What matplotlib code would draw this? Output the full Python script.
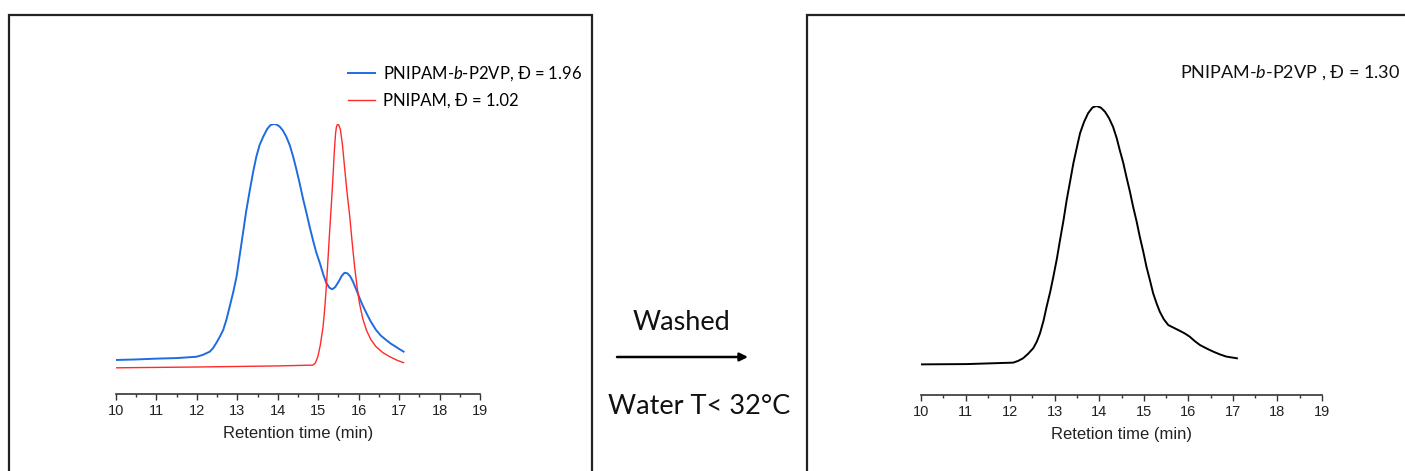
import matplotlib
matplotlib.use("Agg")
import matplotlib.pyplot as plt
from matplotlib.patches import Rectangle
from matplotlib.ticker import MultipleLocator

W, H = 1405, 471

# --- data (relative detector signal) ---
t_block = [10.00, 10.50, 11.00, 11.50, 11.99, 12.15, 12.32, 12.40, 12.48, 12.56,
           12.65, 12.73, 12.81, 12.90, 12.98, 13.06, 13.14, 13.22, 13.31, 13.39,
           13.47, 13.55, 13.64, 13.74, 13.82, 13.90, 13.97, 14.05, 14.13, 14.21,
           14.30, 14.38, 14.46, 14.54, 14.62, 14.71, 14.79, 14.87, 14.95, 15.04,
           15.12, 15.20, 15.28, 15.35, 15.42, 15.50, 15.58, 15.65, 15.72, 15.79,
           15.86, 15.94, 16.02, 16.10, 16.19, 16.30, 16.43, 16.55, 16.68, 16.80,
           16.93, 17.02, 17.11]
s_block = [0.126, 0.128, 0.131, 0.133, 0.138, 0.145, 0.157, 0.170, 0.189, 0.210,
           0.237, 0.275, 0.323, 0.378, 0.434, 0.515, 0.596, 0.678, 0.756, 0.822,
           0.879, 0.922, 0.953, 0.982, 0.996, 1.000, 0.998, 0.990, 0.975, 0.953,
           0.920, 0.879, 0.832, 0.781, 0.726, 0.670, 0.618, 0.570, 0.525, 0.485,
           0.445, 0.411, 0.393, 0.388, 0.396, 0.415, 0.437, 0.449, 0.447, 0.436,
           0.416, 0.387, 0.356, 0.328, 0.300, 0.268, 0.237, 0.216, 0.200, 0.186,
           0.174, 0.165, 0.157]

t_homo = [10.00, 12.00, 14.00, 14.87, 14.93, 14.99, 15.05, 15.12, 15.16, 15.20,
          15.24, 15.28, 15.33, 15.37, 15.40, 15.43, 15.45, 15.48, 15.51, 15.55,
          15.60, 15.65, 15.71, 15.78, 15.84, 15.90, 15.96, 16.02, 16.10, 16.19,
          16.30, 16.43, 16.60, 16.77, 16.95, 17.11]
s_homo = [0.097, 0.100, 0.104, 0.107, 0.115, 0.138, 0.180, 0.249, 0.315, 0.397,
          0.495, 0.596, 0.715, 0.819, 0.904, 0.967, 0.989, 1.000, 0.996, 0.978,
          0.922, 0.842, 0.750, 0.657, 0.560, 0.471, 0.397, 0.336, 0.280, 0.237,
          0.202, 0.175, 0.153, 0.138, 0.125, 0.116]

t_washed = [10.02, 11.03, 12.07, 12.18, 12.29, 12.40, 12.52, 12.60, 12.67, 12.75,
            12.82, 12.90, 12.97, 13.05, 13.12, 13.20, 13.27, 13.35, 13.42, 13.50,
            13.57, 13.66, 13.75, 13.85, 13.94, 14.04, 14.13, 14.22, 14.31, 14.39,
            14.46, 14.54, 14.61, 14.69, 14.76, 14.84, 14.91, 14.99, 15.06, 15.14,
            15.21, 15.29, 15.36, 15.45, 15.55, 15.68, 15.81, 15.92, 16.03, 16.14,
            16.26, 16.41, 16.56, 16.70, 16.85, 17.09]
s_washed = [0.106, 0.107, 0.112, 0.118, 0.127, 0.142, 0.162, 0.185, 0.213, 0.257,
            0.306, 0.357, 0.409, 0.472, 0.536, 0.606, 0.675, 0.742, 0.802, 0.858,
            0.906, 0.945, 0.975, 0.995, 1.000, 0.994, 0.980, 0.958, 0.928, 0.890,
            0.848, 0.803, 0.755, 0.703, 0.652, 0.600, 0.548, 0.495, 0.444, 0.396,
            0.352, 0.316, 0.288, 0.262, 0.242, 0.232, 0.222, 0.213, 0.202, 0.187,
            0.173, 0.161, 0.150, 0.141, 0.133, 0.127]

label_block = "PNIPAM-$\\mathit{b}$-P2VP, \u0110 = 1.96"
label_homo = "PNIPAM, \u0110 = 1.02"
label_washed = "PNIPAM-$\\mathit{b}$-P2VP , \u0110 = 1.30"

plt.rcParams['mathtext.fontset'] = 'custom'
plt.rcParams['mathtext.rm'] = 'Lato'
plt.rcParams['mathtext.it'] = 'Lato:italic'

fig = plt.figure(figsize=(W / 100, H / 100), dpi=100, facecolor='white')


def fx(px):
    return px / W


def fy(py):
    return 1 - py / H


def style_axis(ax, xlabel):
    for side in ('left', 'right', 'top'):
        ax.spines[side].set_visible(False)
    ax.spines['bottom'].set_linewidth(1.2)
    ax.spines['bottom'].set_color('#333333')
    ax.set_yticks([])
    ax.set_xlim(10, 19)
    ax.set_ylim(0, 1)
    ax.xaxis.set_major_locator(MultipleLocator(1))
    ax.xaxis.set_minor_locator(MultipleLocator(0.5))
    ax.tick_params(axis='x', which='major', length=4, width=1, color='#333333',
                   labelsize=10.5, pad=3, labelcolor='#222222')
    ax.tick_params(axis='x', which='minor', length=2.5, width=1, color='#333333')
    for lb in ax.get_xticklabels():
        lb.set_fontfamily('Liberation Sans')
    ax.set_xlabel(xlabel, fontsize=12, family='Liberation Sans', labelpad=6,
                  color='#222222')
    ax.patch.set_alpha(0)


# left panel
axL = fig.add_axes([fx(116), fy(394), fx(480) - fx(116), (394 - 124) / H])
axL.plot(t_block, s_block, color='#1f6be0', lw=1.4, label=label_block)
axL.plot(t_homo, s_homo, color='#ff2a2a', lw=1.0, label=label_homo)
style_axis(axL, 'Retention time (min)')
axL.legend(loc='upper left', bbox_to_anchor=(fx(348), fy(64)),
           bbox_transform=fig.transFigure, frameon=False, borderpad=0,
           borderaxespad=0, handlelength=1.6, handletextpad=0.5,
           labelspacing=0.6, prop={'family': 'Lato', 'size': 12})

# right panel
axR = fig.add_axes([fx(921), fy(395), fx(1322) - fx(921), (395 - 106) / H])
axR.plot(t_washed, s_washed, color='black', lw=1.4)
style_axis(axR, 'Retetion time (min)')
fig.text(fx(1180), fy(73), label_washed, family='Lato', fontsize=13,
         ha='left', va='center', color='#111111')

# frames around the two panels
fig.add_artist(Rectangle((fx(9), -0.05), fx(592) - fx(9), fy(15) + 0.05,
                         transform=fig.transFigure, fill=False, lw=1.6,
                         edgecolor='#222222'))
fig.add_artist(Rectangle((fx(807), -0.05), 0.5, fy(15) + 0.05,
                         transform=fig.transFigure, fill=False, lw=1.6,
                         edgecolor='#222222'))

# middle arrow and labels
fig.text(fx(681), fy(323), 'Washed', family='Lato', fontsize=19.5,
         ha='center', va='center', color='#111111')
fig.text(fx(699), fy(407), 'Water T< 32\u00b0C', family='Lato', fontsize=19.5,
         ha='center', va='center', color='#111111')
axL.annotate('', xy=(fx(748), fy(357)), xytext=(fx(617), fy(357)),
             xycoords='figure fraction', textcoords='figure fraction',
             annotation_clip=False,
             arrowprops=dict(arrowstyle='-|>', color='black', lw=1.8,
                             mutation_scale=12, shrinkA=0, shrinkB=0))

fig.savefig('out.png', dpi=100, facecolor='white')
